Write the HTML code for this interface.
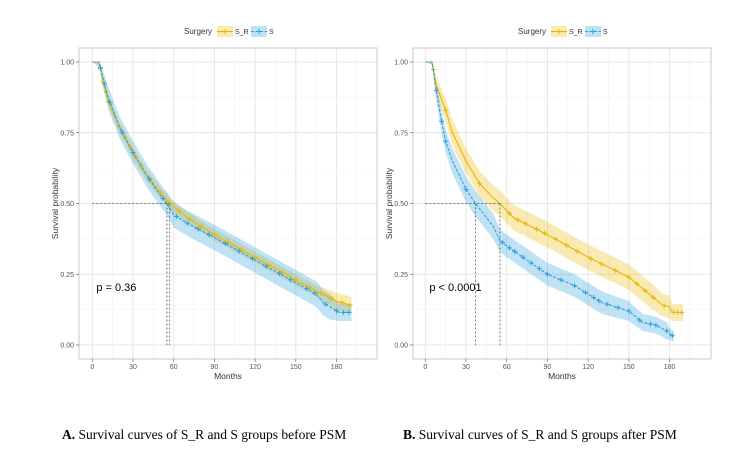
<!DOCTYPE html>
<html><head><meta charset="utf-8"><style>
body{margin:0;background:#fff;width:733px;height:463px;overflow:hidden;font-family:"Liberation Sans",sans-serif}
.cap{position:absolute;top:427px;font-family:"Liberation Serif",serif;font-size:13.5px;color:#000;white-space:nowrap}
</style></head><body>
<svg id="chart" width="733" height="463" style="position:absolute;left:0;top:0"></svg>
<div class="cap" style="left:62px"><b>A.</b> Survival curves of S_R and S groups before PSM</div>
<div class="cap" style="left:403px"><b>B.</b> Survival curves of S_R and S groups after PSM</div>
<script>
const xTicks=[0,30,60,90,120,150,180];
const yTicks=[0,0.25,0.5,0.75,1];
const yTickLabels=["0.00","0.25","0.50","0.75","1.00"];
// Panel A
const aSRtime=[0,5,8,12,20,30,40,50,57,70,90,120,150,165,172,180,191];
const aSRsurv=[1,1,0.93,0.86,0.77,0.68,0.6,0.54,0.5,0.45,0.39,0.31,0.23,0.19,0.175,0.155,0.14];
const aSRci=[0,0.01,0.02,0.02,0.02,0.02,0.02,0.02,0.02,0.02,0.02,0.02,0.02,0.02,0.025,0.03,0.03];
const aSRcens=[6,8,10,12,20,24,28,32,36,42,50,56,64,72,80,90,100,110,120,130,140,150,160,168,176,184,190];
const aStime=[0,5,8,12,20,30,40,50,55,60,70,90,120,150,165,170,175,182,191];
const aSsurv=[1,1,0.94,0.87,0.77,0.68,0.6,0.53,0.5,0.46,0.43,0.38,0.3,0.22,0.18,0.15,0.135,0.115,0.115];
const aSci=[0,0.02,0.03,0.04,0.04,0.04,0.04,0.04,0.04,0.045,0.045,0.045,0.045,0.045,0.045,0.045,0.045,0.03,0.03];
const aScens=[6,9,13,22,30,42,52,62,70,78,86,98,108,118,128,138,146,158,164,172,180,185,189];
// Panel B
const bSRtime=[0,5,8,15,20,30,40,50,55,65,90,120,150,165,175,180,182,190];
const bSRsurv=[1,1,0.92,0.83,0.75,0.65,0.57,0.52,0.5,0.45,0.39,0.31,0.24,0.18,0.14,0.135,0.115,0.115];
const bSRci=[0,0.01,0.03,0.04,0.045,0.045,0.045,0.045,0.045,0.045,0.045,0.045,0.045,0.045,0.04,0.04,0.03,0.03];
const bSRcens=[6,15,40,62,68,74,82,88,96,104,112,122,130,140,150,156,162,168,176,183,186,189];
const bStime=[0,5,8,12,15,20,30,37,50,55,60,75,90,110,130,150,160,170,178,180,183];
const bSsurv=[1,1,0.9,0.79,0.72,0.65,0.55,0.5,0.42,0.37,0.35,0.3,0.25,0.21,0.15,0.12,0.08,0.07,0.05,0.04,0.03];
const bSci=[0,0.01,0.03,0.04,0.04,0.045,0.045,0.045,0.045,0.04,0.04,0.04,0.04,0.04,0.04,0.035,0.03,0.03,0.03,0.02,0.02];
const bScens=[8,12,15,30,57,62,66,72,78,84,90,100,110,118,124,128,134,142,150,158,166,170,178,182];

const NS='http://www.w3.org/2000/svg';
const svg=document.getElementById('chart');
function mk(tag,attrs,parent){const e=document.createElementNS(NS,tag);for(const k in attrs)e.setAttribute(k,attrs[k]);(parent||svg).appendChild(e);return e;}
function survAt(times,surv,t){for(let i=times.length-1;i>=0;i--){if(t>=times[i]){if(i===times.length-1)return surv[i];const f=(t-times[i])/(times[i+1]-times[i]);return surv[i]+f*(surv[i+1]-surv[i]);}}return 1;}
function medianT(times,surv){for(let i=1;i<times.length;i++){if(surv[i]<=0.5){const f=(surv[i-1]-0.5)/(surv[i-1]-surv[i]);return times[i-1]+f*(times[i]-times[i-1]);}}return null;}

function panel(p){
  const g=mk('g',{});
  
  
  const L=p.left,R=p.right,T=48,B=359;
  const x=t=>p.x0+t*1.357;
  const y=s=>345-283*s;
  for(let t=15;t<=195;t+=30){if(x(t)<R)mk('line',{x1:x(t),x2:x(t),y1:T,y2:B,stroke:'#f2f2f2','stroke-width':0.6},g);}
  for(let s=0.125;s<1.1;s+=0.25)mk('line',{x1:L,x2:R,y1:y(s),y2:y(s),stroke:'#f2f2f2','stroke-width':0.6},g);
  xTicks.forEach(t=>{mk('line',{x1:x(t),x2:x(t),y1:T,y2:B,stroke:'#e6e6e6','stroke-width':1},g);});
  yTicks.forEach(s=>{mk('line',{x1:L,x2:R,y1:y(s),y2:y(s),stroke:'#e6e6e6','stroke-width':1},g);});
  mk('rect',{x:L,y:T,width:R-L,height:B-T,fill:'none',stroke:'#c8c8c8','stroke-width':1},g);
  xTicks.forEach(t=>{mk('line',{x1:x(t),x2:x(t),y1:B,y2:B+3,stroke:'#555','stroke-width':0.6},g);
    const tx=mk('text',{x:x(t),y:B+10,'font-size':7,fill:'#555','text-anchor':'middle'},g);tx.textContent=t;
    });
  yTicks.forEach((s,i)=>{mk('line',{x1:L-3,x2:L,y1:y(s),y2:y(s),stroke:'#555','stroke-width':0.6},g);
    const tx=mk('text',{x:L-5,y:y(s)+2.5,'font-size':7,fill:'#555','text-anchor':'end'},g);tx.textContent=yTickLabels[i];
    });
  const xt=mk('text',{x:(L+R)/2,y:379,'font-size':8.5,fill:'#333','text-anchor':'middle'},g);xt.textContent='Months';
  
  const yt=mk('text',{x:0,y:0,'font-size':8.5,fill:'#333','text-anchor':'middle',transform:`translate(${p.ylab},${(T+B)/2}) rotate(-90)`},g);yt.textContent='Survival probability';
  
  p.series.forEach(sr=>{
    let up='',lo='';
    sr.time.forEach((t,i)=>{up+=(i?'L':'M')+x(t)+','+y(Math.min(1,sr.surv[i]+sr.ci[i]));});
    for(let i=sr.time.length-1;i>=0;i--)lo+='L'+x(sr.time[i])+','+y(Math.max(0,sr.surv[i]-sr.ci[i]));
    const band=mk('path',{d:up+lo+'Z',fill:sr.color,'fill-opacity':0.3,stroke:'none'},g);
    
  });
  p.series.forEach(sr=>{
    let d='';sr.time.forEach((t,i)=>{d+=(i?'L':'M')+x(t)+','+y(sr.surv[i]);});
    const ln=mk('path',{d:d,fill:'none',stroke:sr.color,'stroke-width':1.1,'stroke-dasharray':sr.dash||'none'},g);
    
    sr.cens.forEach(t=>{const cx=x(t),cy=y(survAt(sr.time,sr.surv,t));
      const c=mk('path',{d:`M${cx-2.5},${cy}h5M${cx},${cy-2.5}v5`,stroke:sr.color,'stroke-width':1},g);
      });
  });
  const meds=p.series.map(sr=>medianT(sr.time,sr.surv));
  const mx=Math.max(...meds);
  mk('line',{x1:x(0),x2:x(mx),y1:y(0.5),y2:y(0.5),stroke:'#555','stroke-width':0.8,'stroke-dasharray':'2,2'},g);
  meds.forEach(m=>mk('line',{x1:x(m),x2:x(m),y1:y(0.5),y2:y(0),stroke:'#555','stroke-width':0.8,'stroke-dasharray':'2,2'},g));
  const pv=mk('text',{x:x(3),y:y(0.19),'font-size':11,fill:'#000'},g);pv.textContent=p.pval;
  
  const lg=mk('g',{},g);
  const lt=mk('text',{x:p.leg,y:34,'font-size':8,fill:'#333'},lg);lt.textContent='Surgery';
  let lx=p.leg+33;
  p.series.forEach(sr=>{
    mk('rect',{x:lx,y:26,width:16,height:11,fill:sr.color,'fill-opacity':0.3},lg);
    mk('line',{x1:lx,x2:lx+16,y1:31.5,y2:31.5,stroke:sr.color,'stroke-width':1.1,'stroke-dasharray':sr.dash||'none'},lg);
    mk('path',{d:`M${lx+5.5},31.5h5M${lx+8},29v5`,stroke:sr.color,'stroke-width':1},lg);
    const e=mk('text',{x:lx+18,y:34,'font-size':7,fill:'#333'},lg);e.textContent=sr.key;
    
    lx+=34;
  });
}
const GOLD='#E7B800',BLUE='#2E9FDF';
panel({name:'panel-a-before-psm',left:79,right:377,x0:92.3,ylab:58,leg:184,pval:'p = 0.36',series:[
  {key:'S_R',time:aSRtime,surv:aSRsurv,ci:aSRci,cens:aSRcens,color:GOLD},
  {key:'S',time:aStime,surv:aSsurv,ci:aSci,cens:aScens,color:BLUE,dash:'3,1.5'}]});
panel({name:'panel-b-after-psm',left:413,right:711,x0:425.3,ylab:392,leg:518,pval:'p < 0.0001',series:[
  {key:'S_R',time:bSRtime,surv:bSRsurv,ci:bSRci,cens:bSRcens,color:GOLD},
  {key:'S',time:bStime,surv:bSsurv,ci:bSci,cens:bScens,color:BLUE,dash:'3,1.5'}]});
</script>
</body></html>
